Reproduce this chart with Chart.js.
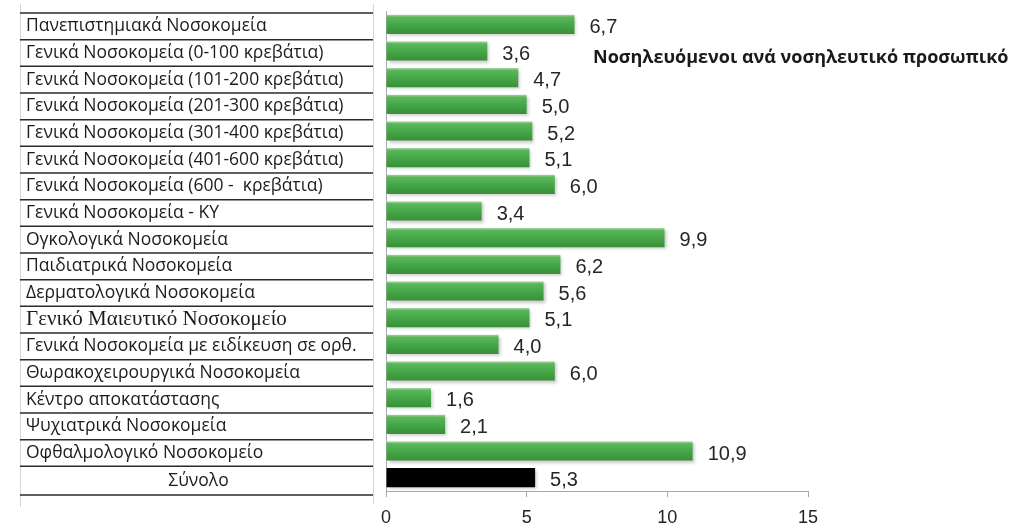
<!DOCTYPE html>
<html>
<head>
<meta charset="utf-8">
<script src="https://cdn.jsdelivr.net/npm/chart.js@4.4.0/dist/chart.umd.min.js"></script>
<style>
html, body { margin: 0; padding: 0; background: #fff; }
#wrap { width: 1014px; height: 525px; position: relative; }
</style>
</head>
<body>
<div id="wrap"><canvas id="chart"></canvas></div>
<script>
var categories = [
    'Πανεπιστημιακά Νοσοκομεία',
    'Γενικά Νοσοκομεία (0-100 κρεβάτια)',
    'Γενικά Νοσοκομεία (101-200 κρεβάτια)',
    'Γενικά Νοσοκομεία (201-300 κρεβάτια)',
    'Γενικά Νοσοκομεία (301-400 κρεβάτια)',
    'Γενικά Νοσοκομεία (401-600 κρεβάτια)',
    'Γενικά Νοσοκομεία (600 -  κρεβάτια)',
    'Γενικά Νοσοκομεία - ΚΥ',
    'Ογκολογικά Νοσοκομεία',
    'Παιδιατρικά Νοσοκομεία',
    'Δερματολογικά Νοσοκομεία',
    'Γενικό Μαιευτικό Νοσοκομείο',
    'Γενικά Νοσοκομεία με ειδίκευση σε ορθ.',
    'Θωρακοχειρουργικά Νοσοκομεία',
    'Κέντρο αποκατάστασης',
    'Ψυχιατρικά Νοσοκομεία',
    'Οφθαλμολογικό Νοσοκομείο',
    'Σύνολο'
];
var values = [6.7, 3.6, 4.7, 5.0, 5.2, 5.1, 6.0, 3.4, 9.9, 6.2, 5.6, 5.1, 4.0, 6.0, 1.6, 2.1, 10.9, 5.3];
var xTicks = [0, 5, 10, 15];
var titleText = 'Νοσηλευόμενοι ανά νοσηλευτικό προσωπικό';

var serifRow = 11;   // this row was typed in a serif face
var totalRow = 17;   // "Σύνολο" row, centred and drawn in black

Chart.defaults.font.family = '"Liberation Sans", Arial, sans-serif';

function barFill(c) {
    if (c.dataIndex === totalRow) return '#000000';
    var chart = c.chart;
    var yScale = chart.scales.y;
    if (!yScale || !chart.chartArea) return '#4aa94a';
    var yc = yScale.getPixelForValue(c.dataIndex);
    var half = 10;
    var g = chart.ctx.createLinearGradient(0, yc - half, 0, yc + half);
    g.addColorStop(0, '#b4ddb4');
    g.addColorStop(0.14, '#5cb65c');
    g.addColorStop(0.5, '#47a847');
    g.addColorStop(1, '#378e37');
    return g;
}

// row table with the category names, left of the bars
var labelTable = {
    id: 'labelTable',
    afterDraw: function(chart) {
        var ctx = chart.ctx;
        var y = chart.scales.y;
        var left = 20, right = 373;
        var band = y.getPixelForValue(1) - y.getPixelForValue(0);
        ctx.save();
        ctx.strokeStyle = '#d6d6d6';
        ctx.lineWidth = 1;
        ctx.beginPath();
        ctx.moveTo(left + 0.5, 4); ctx.lineTo(left + 0.5, 507);
        ctx.moveTo(right + 0.5, 4); ctx.lineTo(right + 0.5, 504);
        ctx.stroke();

        ctx.strokeStyle = '#2a2a2a';
        ctx.lineWidth = 1.5;
        for (var i = 0; i <= categories.length; i++) {
            var py = y.getPixelForValue(i) - band / 2 + 2;
            if (i === categories.length) py += 2;
            ctx.beginPath();
            ctx.moveTo(left, py);
            ctx.lineTo(right, py);
            ctx.stroke();
        }

        ctx.fillStyle = '#1c1c1c';
        ctx.textBaseline = 'middle';
        categories.forEach(function(label, i) {
            var py = y.getPixelForValue(i) + 2;
            if (i === serifRow) {
                ctx.font = '21px "Liberation Serif"';
            } else {
                ctx.font = '17.5px "Open Sans"';
            }
            if (i === totalRow) {
                ctx.textAlign = 'center';
                ctx.fillText(label, (left + right) / 2 + 2, py + 1);
            } else {
                ctx.textAlign = 'left';
                ctx.fillText(label, 26, py);
            }
        });

        ctx.font = 'bold 18px "Open Sans"';
        ctx.textAlign = 'left';
        ctx.fillStyle = '#1a1a1a';
        ctx.fillText(titleText, 593, 58);
        ctx.restore();
    }
};

// soft shadow under the bars, then the value printed after each bar
var barValues = {
    id: 'barValues',
    beforeDatasetsDraw: function(chart) {
        var ctx = chart.ctx;
        ctx.save();
        ctx.shadowColor = 'rgba(0,0,0,0.22)';
        ctx.shadowBlur = 3;
        ctx.shadowOffsetX = 2;
        ctx.shadowOffsetY = 2;
    },
    afterDatasetsDraw: function(chart) {
        var ctx = chart.ctx;
        ctx.restore();
        ctx.save();
        ctx.font = '20px "Liberation Sans"';
        ctx.fillStyle = '#262626';
        ctx.textAlign = 'left';
        ctx.textBaseline = 'middle';
        chart.getDatasetMeta(0).data.forEach(function(bar, i) {
            var txt = values[i].toFixed(1).replace('.', ',');
            ctx.fillText(txt, bar.x + 15, bar.y + 3);
        });
        ctx.restore();
    }
};

var chart = new Chart(document.getElementById('chart'), {
    type: 'bar',
    data: {
        labels: categories,
        datasets: [{
            data: values,
            backgroundColor: barFill,
            borderWidth: 0,
            barPercentage: 0.72,
            categoryPercentage: 1
        }]
    },
    options: {
        indexAxis: 'y',
        responsive: true,
        maintainAspectRatio: false,
        animation: false,
        layout: {
            padding: { left: 386, right: 206, top: 11, bottom: 0 }
        },
        plugins: {
            legend: { display: false },
            tooltip: { enabled: false }
        },
        scales: {
            x: {
                type: 'linear',
                min: 0,
                max: 15,
                afterBuildTicks: function(scale) {
                    scale.ticks = xTicks.map(function(v) { return { value: v }; });
                },
                afterFit: function(scale) { scale.height = 34; },
                grid: { drawOnChartArea: false, drawTicks: true, tickLength: 6, color: '#a8a8a8' },
                border: { color: '#a8a8a8', width: 1 },
                ticks: {
                    font: { size: 18 },
                    color: '#222222',
                    padding: 10,
                    maxRotation: 0
                }
            },
            y: {
                type: 'category',
                grid: { display: false },
                border: { color: '#a8a8a8', width: 1 },
                ticks: { display: false },
                afterFit: function(scale) { scale.width = 0; }
            }
        }
    },
    plugins: [labelTable, barValues]
});
</script>
</body>
</html>
